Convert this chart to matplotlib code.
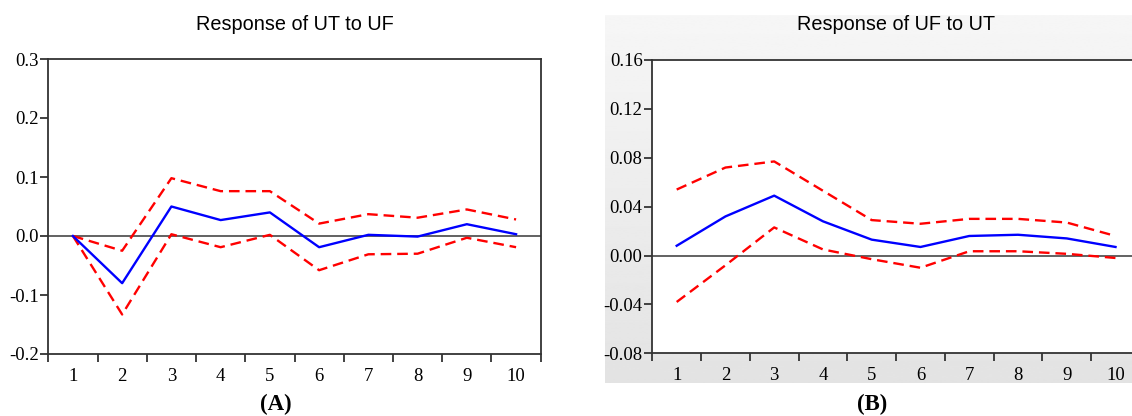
import matplotlib.pyplot as plt
import numpy as np
from matplotlib.ticker import FixedLocator

periodos = list(range(1, 11))

# Response of UT to UF
ut_resp = [0.0, -0.080, 0.050, 0.027, 0.040, -0.019, 0.002, -0.001, 0.020, 0.003]
ut_sup = [0.0, -0.025, 0.098, 0.076, 0.076, 0.021, 0.037, 0.031, 0.045, 0.028]
ut_inf = [0.0, -0.133, 0.003, -0.019, 0.002, -0.058, -0.031, -0.030, -0.003, -0.019]

# Response of UF to UT
uf_resp = [0.008, 0.032, 0.049, 0.028, 0.013, 0.007, 0.016, 0.017, 0.014, 0.007]
uf_sup = [0.054, 0.072, 0.077, 0.053, 0.029, 0.026, 0.030, 0.030, 0.027, 0.016]
uf_inf = [-0.038, -0.008, 0.023, 0.005, -0.003, -0.010, 0.0035, 0.0035, 0.0014, -0.002]

ticks_a = [-0.2, -0.1, 0.0, 0.1, 0.2, 0.3]
ticks_b = [-0.08, -0.04, 0.0, 0.04, 0.08, 0.12, 0.16]

fig = plt.figure(figsize=(11.32, 4.16), dpi=100)
W, H = 1132, 416

serif = "Liberation Serif"
sans = "Liberation Sans"

# fundo cinza (gradiente) do painel B
ax_bg = fig.add_axes([605 / W, 1 - 383 / H, (W - 605) / W, (383 - 15) / H], zorder=-1)
grad = np.linspace(0.965, 0.89, 256).reshape(-1, 1)
ax_bg.imshow(grad, cmap="gray", vmin=0, vmax=1, aspect="auto", extent=(0, 1, 0, 1))
ax_bg.axis("off")


def desenhar(ax, resp, sup, inf, yticks, fmt, xmax):
    ax.set_facecolor("white")
    ax.axhline(0, color="#555555", lw=1.3, zorder=1)
    ax.plot(periodos, sup, color="#ff0000", lw=1.7, dashes=(4.5, 2.5), zorder=2)
    ax.plot(periodos, inf, color="#ff0000", lw=1.7, dashes=(4.5, 2.5), zorder=2)
    ax.plot(periodos, resp, color="#0000ff", lw=1.7, zorder=3)
    ax.set_xlim(0.5, xmax)
    ax.set_ylim(yticks[0], yticks[-1])
    ax.set_yticks(yticks)
    ax.set_yticklabels([fmt.format(v) for v in yticks], fontfamily=serif, fontsize=13.5)
    ax.set_xticks(periodos)
    ax.set_xticklabels([str(p) for p in periodos], fontfamily=serif, fontsize=13.5)
    ax.xaxis.set_minor_locator(FixedLocator([p + 0.5 for p in range(0, 11)]))
    ax.tick_params(axis="x", which="major", length=0, pad=10)
    ax.tick_params(axis="x", which="minor", length=6, width=1.3, color="#333333", direction="out")
    ax.tick_params(axis="y", length=6, width=1.3, color="#333333", pad=1)
    for s in ax.spines.values():
        s.set_color("#333333")
        s.set_linewidth(1.3)


ax_a = fig.add_axes([48.3 / W, 1 - 354 / H, (540.7 - 48.3) / W, (354 - 59) / H])
desenhar(ax_a, ut_resp, ut_sup, ut_inf, ticks_a, "{:.1f}", 10.5)

ax_b = fig.add_axes([652.3 / W, 1 - 353.3 / H, (W - 652.3) / W, (353.3 - 60) / H])
desenhar(ax_b, uf_resp, uf_sup, uf_inf, ticks_b, "{:.2f}", 0.5 + (W - 652.3) / 48.76)
ax_b.spines["right"].set_visible(False)

fig.text(294.5 / W, 1 - 25 / H, "Response of UT to UF", ha="center", va="center",
         fontfamily=sans, fontsize=14.3)
fig.text(896 / W, 1 - 25 / H, "Response of UF to UT", ha="center", va="center",
         fontfamily=sans, fontsize=14.3)
fig.text(275.5 / W, 1 - 404 / H, "(A)", ha="center", va="center",
         fontfamily=serif, fontsize=16.5, fontweight="bold")
fig.text(872 / W, 1 - 404 / H, "(B)", ha="center", va="center",
         fontfamily=serif, fontsize=16.5, fontweight="bold")

fig.savefig("out.png", dpi=100, facecolor="white")
